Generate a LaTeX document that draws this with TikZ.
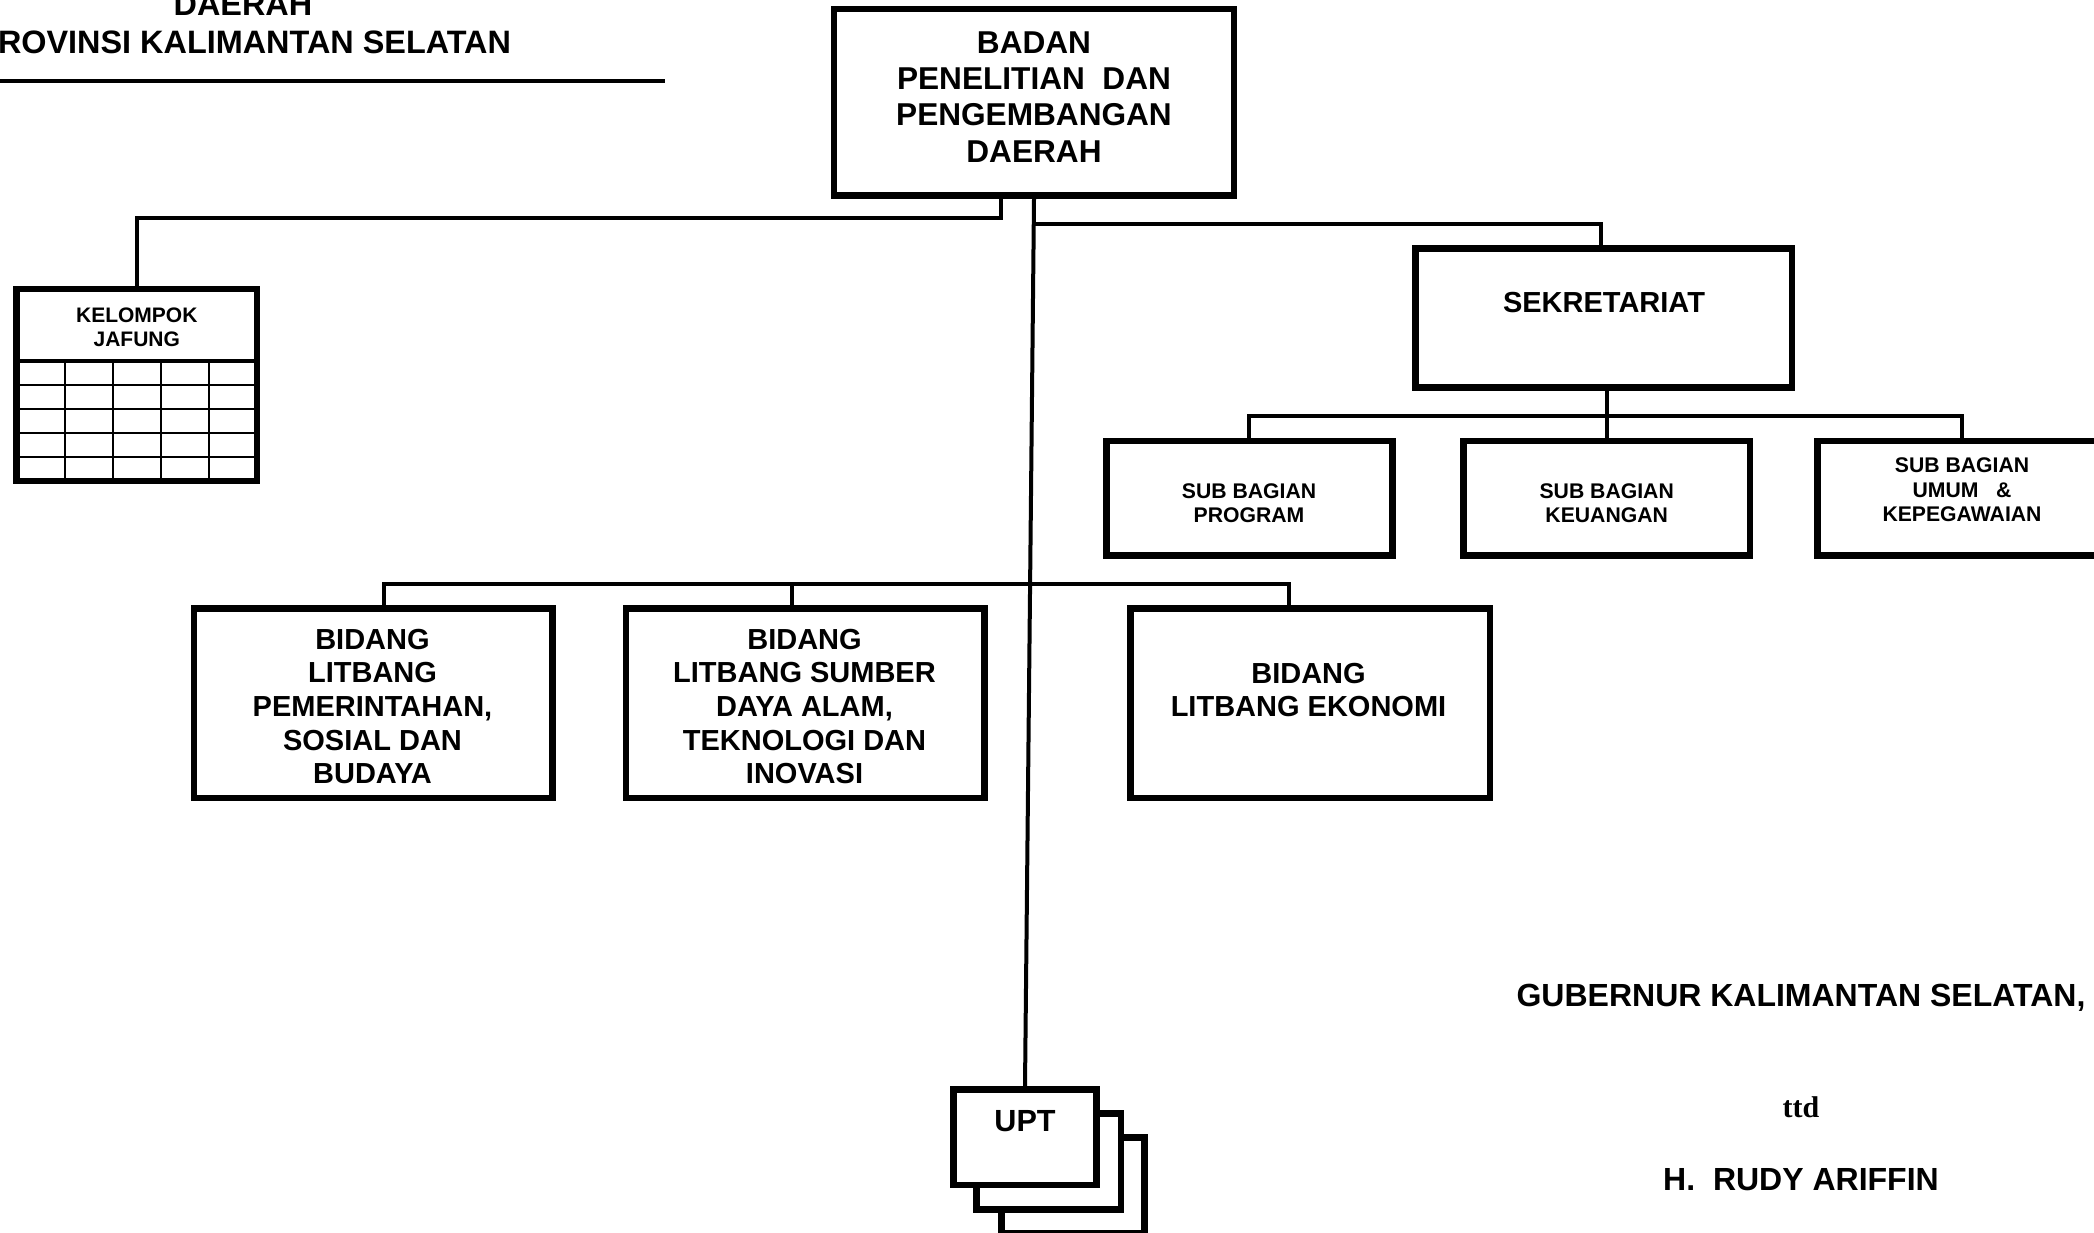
\documentclass[tikz,border=0pt]{standalone}
\usepackage{fontspec}
\setmainfont{Liberation Sans}
\newfontfamily\serifbold{Liberation Serif}
\usetikzlibrary{fit}
\begin{document}
\begin{tikzpicture}[x=0.5pt,y=-0.5pt,
  box/.style={draw, line width=3.3pt, inner sep=0pt, fill=white},
  conn/.style={line width=2pt},
  gridln/.style={line width=1pt},
  lbl/.style={inner sep=0pt, outer sep=0pt, align=center, anchor=north},
  txt/.style={inner sep=0pt, outer sep=0pt, anchor=base},
  fA/.style={font=\fontsize{16}{19}\selectfont\bfseries},
  fTitle/.style={font=\fontsize{16.2}{19}\selectfont\bfseries},
  fBadan/.style={font=\fontsize{15.8}{18.15}\selectfont\bfseries},
  fMid/.style={font=\fontsize{14.5}{16.8}\selectfont\bfseries},
  fSmall/.style={font=\fontsize{10.6}{12.1}\selectfont\bfseries},
  fKel/.style={font=\fontsize{10.5}{11.7}\selectfont\bfseries},
  fUpt/.style={font=\fontsize{15.3}{18}\selectfont\bfseries}
]
\useasboundingbox (0,0) rectangle (2094,1232);
\clip (0,0) rectangle (2094,1232);
\fill[white] (0,0) rectangle (2094,1232);

% ---------- title ----------
\node[txt, fTitle] (title1) at (243,15) {DAERAH};
\node[txt, fTitle, anchor=base east] (title2) at (511,53) {ROVINSI KALIMANTAN SELATAN};
\draw[line width=2.2pt] (0,81) -- (665,81);

% ---------- boxes ----------
\node[box, fit={(834,9) (1234,195.6)}] (badan) {};
\node[box, fit={(16.7,289) (257,481)}] (kel) {};
\node[box, fit={(1415.7,248.3) (1792,387.7)}] (sekret) {};
\node[box, fit={(1106.3,441) (1392.5,555.3)}] (sbprog) {};
\node[box, fit={(1463.5,441) (1749.9,555.3)}] (sbkeu) {};
\node[box, fit={(1817.3,441) (2106.7,555.3)}] (sbumum) {};
\node[box, fit={(193.8,608.3) (552.2,798)}] (bid1) {};
\node[box, fit={(626,608.3) (984.4,798)}] (bid2) {};
\node[box, fit={(1130.5,608.3) (1489.8,798)}] (bid3) {};
\node[box, fit={(1001.7,1137.3) (1144.7,1233.3)}] (upt3) {};
\node[box, fit={(976.7,1113.3) (1121,1209.4)}] (upt2) {};
\node[box, fit={(953.3,1089.3) (1096.7,1185)}] (upt1) {};

% kelompok jafung grid
\draw[line width=2.2pt] (16.7,361) -- (257,361);
\foreach \yy in {385,409.3,433.3,457.3} \draw[gridln] (16.7,\yy) -- (257,\yy);
\foreach \xx in {64.7,113,160.7,208.5} \draw[gridln] (\xx,361) -- (\xx,481);

% ---------- connectors ----------
\coordinate (kj) at (1000.5,217.5);
\coordinate (sj) at (1601,223.8);
\coordinate (sbj) at (1606.7,416);
\coordinate (bL) at (384,583.5);
\coordinate (bM) at (792,583.5);
\coordinate (bR) at (1289,583.5);

\draw[conn] (badan.south -| kj) -- (kj) -| (kel.north);
\draw[conn] (badan.south) -- (upt1.north);
\draw[conn] (badan.south |- sj) -- (sj) -- (sekret.north -| sj);
\draw[conn] (sekret.south -| sbj) -- (sbkeu.north);
\draw[conn] (sbprog.north) |- (sbj) -| (sbumum.north);
\draw[conn] (bid1.north -| bL) -- (bL) -- (bR) -- (bid3.north -| bR);
\draw[conn] (bM) -- (bid2.north -| bM);

% ---------- labels ----------
\node[lbl, fBadan] (badanL) at (1034,31.4) {BADAN\\PENELITIAN\ \ DAN\\PENGEMBANGAN\\DAERAH};
\node[lbl, fKel] (kelL) at (136.8,308.3) {KELOMPOK\\JAFUNG};
\node[lbl, fMid] (sekretL) at (1604,292) {SEKRETARIAT};
\node[lbl, fSmall] (sbprogL) at (1249,483.5) {SUB BAGIAN\\PROGRAM};
\node[lbl, fSmall] (sbkeuL) at (1606.7,483.5) {SUB BAGIAN\\KEUANGAN};
\node[lbl, fSmall] (sbumumL) at (1962,458) {SUB BAGIAN\\UMUM\ \ \ \&\\KEPEGAWAIAN};
\node[lbl, fMid] (bid1L) at (372.5,629) {BIDANG\\LITBANG\\PEMERINTAHAN,\\SOSIAL DAN\\BUDAYA};
\node[lbl, fMid] (bid2L) at (804.5,629) {BIDANG\\LITBANG SUMBER\\DAYA ALAM,\\TEKNOLOGI DAN\\INOVASI};
\node[lbl, fMid] (bid3L) at (1308.5,663) {BIDANG\\LITBANG EKONOMI};
\node[lbl, fUpt] (uptL) at (1025,1110.5) {UPT};

% ---------- signature ----------
\node[txt, fA] (gub) at (1801,1006.5) {GUBERNUR KALIMANTAN SELATAN,};
\node[txt, font=\fontsize{15}{18}\selectfont\serifbold\bfseries] (ttd) at (1801,1117) {ttd};
\node[txt, fA] (rudy) at (1801,1190.7) {H.\ \ RUDY ARIFFIN};
\end{tikzpicture}
\end{document}
